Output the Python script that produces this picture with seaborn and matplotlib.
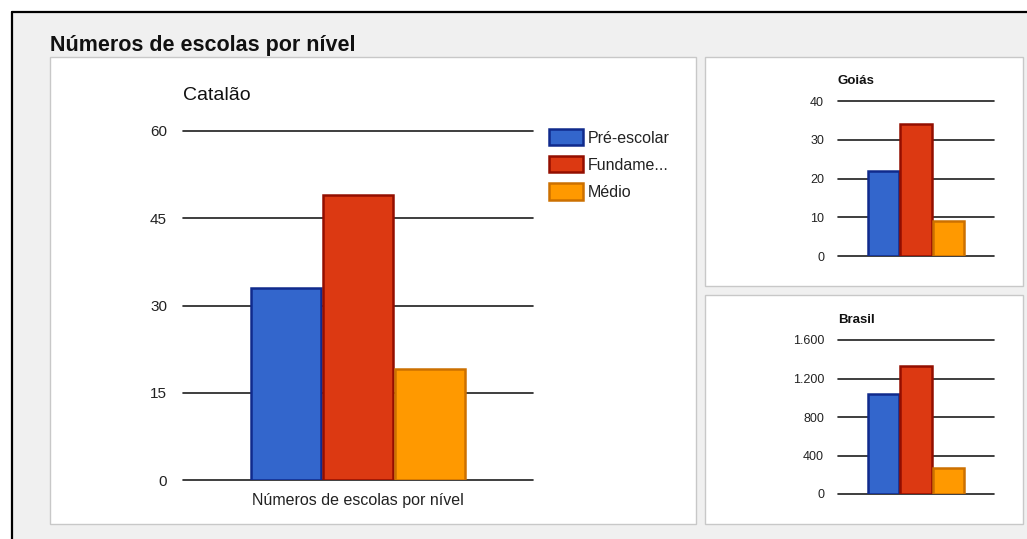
import matplotlib
matplotlib.use("Agg")
import matplotlib.pyplot as plt
from matplotlib.patches import Rectangle, Patch
from matplotlib.lines import Line2D
import seaborn as sns
import pandas as pd

# ---- data ----
niveis = ["Pré-escolar", "Fundamental", "Médio"]
rotulos_legenda = ["Pré-escolar", "Fundame...", "Médio"]
catalao = [33, 49, 19]
goias = [22, 34, 9]
brasil = [1035, 1325, 265]
cat_ticks = [0, 15, 30, 45, 60]
goias_ticks = [0, 10, 20, 30, 40]
brasil_ticks = [0, 400, 800, 1200, 1600]
brasil_tick_labels = ["0", "400", "800", "1.200", "1.600"]
titulo = "Números de escolas por nível"
categoria = "Números de escolas por nível"

cores = ["#3366cc", "#dc3912", "#ff9900"]
bordas = ["#102a8c", "#930e00", "#cc7000"]

sns.set_theme(style="white")
plt.rcParams["font.family"] = ["Liberation Sans", "DejaVu Sans"]

W, H = 1027, 539
fig = plt.figure(figsize=(W / 100, H / 100), dpi=100)
fig.patch.set_facecolor("white")

def fx(x):
    return x / W

def fy(y):
    return 1 - y / H

# background gray area and black frame
fig.add_artist(Rectangle((fx(12), 0), 1, fy(12), transform=fig.transFigure,
                         facecolor="#f0f0f0", edgecolor="none", zorder=-3))
fig.add_artist(Line2D([fx(12), 1], [fy(12), fy(12)], transform=fig.transFigure,
                      color="black", lw=1.6, zorder=-2))
fig.add_artist(Line2D([fx(12), fx(12)], [0, fy(12)], transform=fig.transFigure,
                      color="black", lw=1.6, zorder=-2))

# panels
def panel(x0, y0, x1, y1):
    fig.add_artist(Rectangle((fx(x0), fy(y1)), fx(x1) - fx(x0), fy(y0) - fy(y1),
                             transform=fig.transFigure, facecolor="white",
                             edgecolor="#c8c8c8", lw=1.0, zorder=-1))

panel(50, 57, 696, 524)
panel(705, 57, 1023, 286)
panel(705, 295, 1023, 524)

fig.text(fx(50), fy(51), titulo, fontsize=15.5, fontweight="bold",
         color="#111111", ha="left", va="baseline")


def chart(rect, valores, ticks, ticklabels, xlabel_text, title, title_kw, tick_fs,
          tick_pad, xhalf, xlabel_fs=None):
    x0, y0, x1, y1 = rect
    ax = fig.add_axes([fx(x0), fy(y1), fx(x1) - fx(x0), fy(y0) - fy(y1)])
    ax.set_facecolor("none")
    df = pd.DataFrame({"grupo": [xlabel_text] * len(niveis), "nivel": niveis,
                       "valor": valores})
    sns.barplot(data=df, x="grupo", y="valor", hue="nivel", hue_order=niveis,
                palette=cores, ax=ax, legend=False, gap=0.025, saturation=1,
                err_kws={"linewidth": 0})
    for p, ec in zip(ax.patches, bordas):
        p.set_edgecolor(ec)
        p.set_linewidth(1.8)
        p.set_zorder(3)
    ax.set_ylim(ticks[0], ticks[-1])
    ax.set_xlim(-xhalf, xhalf)
    ax.set_yticks(ticks)
    ax.set_yticklabels(ticklabels)
    ax.yaxis.grid(True, color="#1e1e1e", lw=1.2)
    for gl in ax.get_ygridlines():
        gl.set_clip_on(False)
    ax.set_axisbelow(True)
    for s in ax.spines.values():
        s.set_visible(False)
    ax.tick_params(axis="y", length=0, pad=tick_pad, labelsize=tick_fs,
                   labelcolor="#222222")
    ax.set_xlabel("")
    ax.set_ylabel("")
    if xlabel_fs:
        ax.tick_params(axis="x", length=0, pad=9, labelsize=xlabel_fs,
                       labelcolor="#222222")
    else:
        ax.set_xticks([])
    fig.text(fx(x0), fy(title_kw.pop("y")), title, ha="left", va="baseline",
             color="#111111", **title_kw)
    return ax

ax_main = chart((183, 131, 533, 480), catalao, cat_ticks, [str(t) for t in cat_ticks],
                categoria, "Catalão", {"y": 100, "fontsize": 14}, 11, 11.5,
                0.648, xlabel_fs=11.5)

chart((838, 101, 994, 256), goias, goias_ticks, [str(t) for t in goias_ticks],
      "Goiás", "Goiás", {"y": 84, "fontsize": 9.5, "fontweight": "bold"}, 9, 10,
      0.643)
chart((838, 340, 994, 494), brasil, brasil_ticks, brasil_tick_labels,
      "Brasil", "Brasil", {"y": 323, "fontsize": 9.5, "fontweight": "bold"}, 9, 10,
      0.643)

handles = [Patch(facecolor=c, edgecolor=e, lw=1.8) for c, e in zip(cores, bordas)]
ax_main.legend(handles, rotulos_legenda, loc="upper left",
               bbox_to_anchor=(fx(549), fy(129)), bbox_transform=fig.transFigure,
               frameon=False, borderpad=0, borderaxespad=0, handlelength=2.15,
               handleheight=1.2, handletextpad=0.3, labelspacing=0.66,
               fontsize=11.5, labelcolor="#222222")

fig.savefig("out.png", dpi=100)
